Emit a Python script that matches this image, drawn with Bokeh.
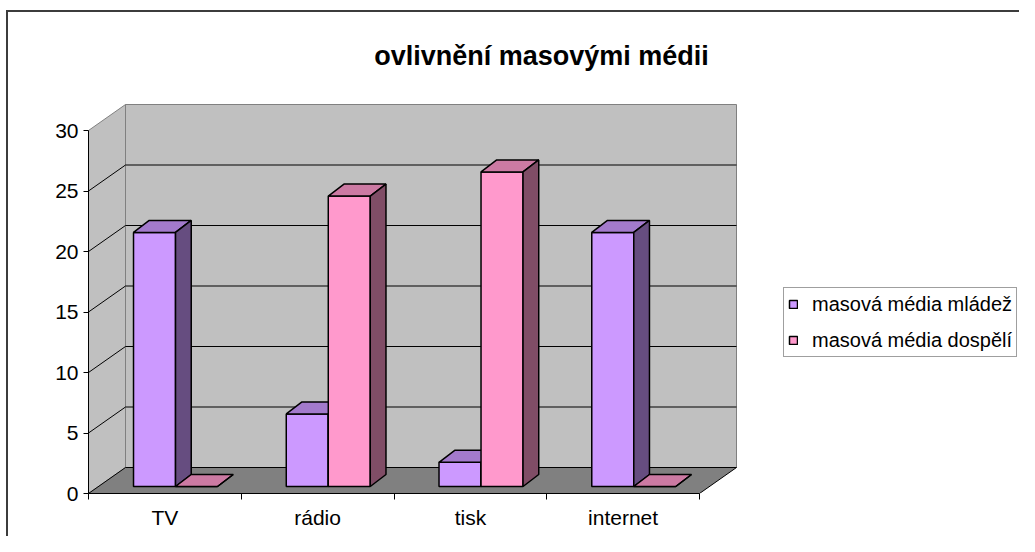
from bokeh.plotting import figure
from bokeh.models import (Range1d, FixedTicker, Legend, LegendItem, Label, LinearAxis)
from bokeh.embed import file_html
from bokeh.resources import INLINE

# ---- data ----
categories = ["TV", "rádio", "tisk", "internet"]
mladez = [21, 6, 2, 21]
dospeli = [0, 24, 26, 0]
series_names = ["masová média mládež", "masová média dospělí"]
y_ticks = [0, 5, 10, 15, 20, 25, 30]
title_text = "ovlivnění masovými médii"

# ---- geometry / style ----
PX_X = 152.75   # px per category
PX_Y = 12.1     # px per value unit
W, H = 1019, 536
LEFT, BOTTOM = 88, 43
FW = W - LEFT
FH = H - BOTTOM
YMAX = 30
NCAT = len(categories)
DX = 37 / PX_X      # wall depth
DY = 26 / PX_Y
BDX = 15.7 / PX_X   # bar depth
BDY = 12 / PX_Y
BW = 0.275          # bar width (category units)
OX = (DX - BDX) / 2
OY = (DY - BDY) / 2
FONT = "Liberation Sans"

front_cols = ["#CC99FF", "#FF99CC"]
top_cols = ["#A37ACC", "#CC7AA3"]
side_cols = ["#664D80", "#804D66"]

# chart-area border (only its top and left sides are visible in the reference),
# painted as the page element's background behind a transparent canvas
border_css = ("linear-gradient(#3c3c3c, #3c3c3c) 6px 10px / 100% 2px no-repeat, "
              "linear-gradient(#3c3c3c, #3c3c3c) 6px 10px / 2px 100% no-repeat, white")

p = figure(width=W, height=H, output_backend="svg", toolbar_location=None,
           x_range=Range1d(0, FW / PX_X), y_range=Range1d(0, FH / PX_Y),
           min_border_left=LEFT, min_border_bottom=BOTTOM, min_border_top=0,
           min_border_right=0, x_axis_location=None, y_axis_location=None,
           background_fill_alpha=0, border_fill_alpha=0,
           outline_line_color=None,
           styles={"background": border_css})
p.grid.visible = False

# ---- walls ----
p.patch([DX, NCAT + DX, NCAT + DX, DX], [DY, DY, YMAX + DY, YMAX + DY],
        fill_color="#C0C0C0", line_color="#808080", line_width=1)
p.patch([0, DX, DX, 0], [0, DY, YMAX + DY, YMAX],
        fill_color="#C0C0C0", line_color="#808080", line_width=1)
p.patch([0, NCAT, NCAT + DX, DX], [0, 0, DY, DY],
        fill_color="#808080", line_color="#000000", line_width=1)

grid_vals = [v for v in y_ticks if 0 < v < YMAX]
p.segment(x0=[DX] * len(grid_vals), y0=[v + DY for v in grid_vals],
          x1=[NCAT + DX] * len(grid_vals), y1=[v + DY for v in grid_vals],
          line_color="#000000", line_width=1)
p.segment(x0=[0] * len(grid_vals), y0=grid_vals,
          x1=[DX] * len(grid_vals), y1=[v + DY for v in grid_vals],
          line_color="#000000", line_width=1)

# ---- bars ----
legend_items = []
for s, vals in enumerate([mladez, dospeli]):
    fx, fy, tx, ty, sx, sy = [], [], [], [], [], []
    for i, v in enumerate(vals):
        x0 = i + 0.5 - BW + s * BW + OX
        x1 = x0 + BW
        y0 = OY
        y1 = OY + v
        fx.append([x0, x1, x1, x0]); fy.append([y0, y0, y1, y1])
        tx.append([x0, x1, x1 + BDX, x0 + BDX]); ty.append([y1, y1, y1 + BDY, y1 + BDY])
        sx.append([x1, x1 + BDX, x1 + BDX, x1]); sy.append([y0, y0 + BDY, y1 + BDY, y1])
    rf = p.patches(fx, fy, fill_color=front_cols[s], line_color="black", line_width=1.5)
    p.patches(tx, ty, fill_color=top_cols[s], line_color="black", line_width=1.5)
    p.patches(sx, sy, fill_color=side_cols[s], line_color="black", line_width=1.5)
    legend_items.append(LegendItem(label=series_names[s], renderers=[rf]))

# ---- axes ----
yax = LinearAxis(ticker=FixedTicker(ticks=y_ticks, minor_ticks=[]), bounds=(0, YMAX))
yax.axis_line_color = "black"
yax.major_tick_out = 5
yax.major_tick_in = 0
yax.minor_tick_out = 0
yax.minor_tick_in = 0
yax.major_label_standoff = 5
yax.major_label_text_font = FONT
yax.major_label_text_font_size = "21px"
yax.major_label_text_color = "black"
yax.major_tick_line_color = "black"
p.add_layout(yax, "left")

xax = LinearAxis(ticker=FixedTicker(ticks=[i + 0.5 for i in range(NCAT)],
                                    minor_ticks=list(range(NCAT + 1))),
                 bounds=(0, NCAT))
xax.major_label_overrides = {i + 0.5: c for i, c in enumerate(categories)}
xax.axis_line_color = "black"
xax.major_tick_out = 0
xax.major_tick_in = 0
xax.minor_tick_out = 6
xax.minor_tick_in = 0
xax.minor_tick_line_color = "black"
xax.major_label_standoff = 6
xax.major_label_text_font = FONT
xax.major_label_text_font_size = "21px"
xax.major_label_text_color = "black"
p.add_layout(xax, "below")

# ---- title ----
p.add_layout(Label(x=(541 - LEFT) / PX_X, y=(FH - 55) / PX_Y, text=title_text,
                   text_font=FONT, text_font_style="bold", text_font_size="27px",
                   text_align="center", text_baseline="alphabetic", text_color="black"))

# ---- legend ----
leg = Legend(items=legend_items, location=(695, 136),
             label_text_font=FONT, label_text_font_size="20px", label_text_color="black",
             glyph_width=10, glyph_height=10, label_height=24, spacing=12, padding=4,
             label_standoff=14, border_line_color="#404040", border_line_width=1,
             background_fill_color="white", background_fill_alpha=1.0, margin=0)
p.add_layout(leg, "center")

open("out.html", "w").write(file_html(p, INLINE))
